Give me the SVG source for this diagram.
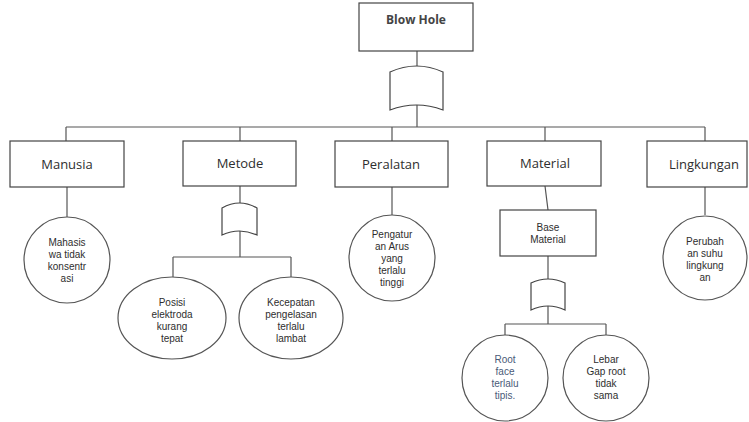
<svg xmlns="http://www.w3.org/2000/svg" width="749" height="422" viewBox="0 0 749 422">
<style>
.box{fill:#fff;stroke:#444;stroke-width:1.2}
.gate{fill:#fff;stroke:#444;stroke-width:1.2}
.ev{fill:#fff;stroke:#555;stroke-width:1.2}
.ln{stroke:#555;stroke-width:1.2;fill:none}
.t{font-family:"Open Sans","Liberation Sans",sans-serif;fill:#2e2e2e;text-anchor:middle}
.big{font-size:13px}
.sm{font-family:"Liberation Sans","Open Sans",sans-serif;font-size:10px}
</style>
<rect width="749" height="422" fill="#fff"/>
<g id="connectors">
<path class="ln" d="M417,51V66M417,105V127M66,127H705M66,127V141M240,127V141M392,127V141M545,127V141M705,127V141"/>
<path class="ln" d="M67,187V217"/>
<path class="ln" d="M240,186V203M240,231V257M173,257H291M173,257V277M291,257V277"/>
<path class="ln" d="M392,187V215"/>
<path class="ln" d="M545,186L548,210M548,256V279M548,306V324M505,324H606M505,324V335M606,324V335"/>
<path class="ln" d="M705,187V215"/>
</g>
<g id="blow-hole"><rect class="box" x="359" y="3" width="114" height="48"/><text class="t" x="416" y="24" style="font-size:12px;font-weight:bold;fill:#444">Blow Hole</text></g>
<g id="gate-main"><path class="gate" d="M390,72Q416.5,60 443,72L443,110Q416.5,100 390,110Z"/></g>
<g id="manusia"><rect class="box" x="10" y="141" width="114" height="46"/><text class="t big" x="67" y="169">Manusia</text></g>
<g id="metode"><rect class="box" x="183" y="141" width="113" height="45"/><text class="t big" x="240" y="168">Metode</text></g>
<g id="peralatan"><rect class="box" x="335" y="141" width="113" height="46"/><text class="t big" x="391" y="169">Peralatan</text></g>
<g id="material"><rect class="box" x="487" y="141" width="114" height="45"/><text class="t big" x="545" y="168">Material</text></g>
<g id="lingkungan"><rect class="box" x="647" y="141" width="100" height="46"/><text class="t big" x="704" y="169">Lingkungan</text></g>
<g id="mahasiswa"><circle class="ev" cx="67" cy="260" r="43"/><text class="t sm" x="67" y="246"><tspan x="67">Mahasis</tspan><tspan x="67" dy="12">wa tidak</tspan><tspan x="67" dy="12">konsentr</tspan><tspan x="67" dy="12">asi</tspan></text></g>
<g id="gate-metode"><path class="gate" d="M222,208Q239.5,198 257,208L257,235Q239.5,227 222,235Z"/></g>
<g id="posisi"><ellipse class="ev" cx="172" cy="318" rx="54" ry="41"/><text class="t sm" x="172" y="306"><tspan x="172">Posisi</tspan><tspan x="172" dy="12">elektroda</tspan><tspan x="172" dy="12">kurang</tspan><tspan x="172" dy="12">tepat</tspan></text></g>
<g id="kecepatan"><ellipse class="ev" cx="291" cy="318" rx="52" ry="41"/><text class="t sm" x="291" y="306"><tspan x="291">Kecepatan</tspan><tspan x="291" dy="12">pengelasan</tspan><tspan x="291" dy="12">terlalu</tspan><tspan x="291" dy="12">lambat</tspan></text></g>
<g id="pengaturan"><circle class="ev" cx="392" cy="258" r="43"/><text class="t sm" x="392" y="238"><tspan x="392">Pengatur</tspan><tspan x="392" dy="12">an Arus</tspan><tspan x="392" dy="12">yang</tspan><tspan x="392" dy="12">terlalu</tspan><tspan x="392" dy="12">tinggi</tspan></text></g>
<g id="base-material"><rect class="box" x="500" y="210" width="96" height="46"/><text class="t sm" x="548" y="231"><tspan x="548">Base</tspan><tspan x="548" dy="12">Material</tspan></text></g>
<g id="gate-material"><path class="gate" d="M531,283Q548,275 565,283L565,310Q548,302 531,310Z"/></g>
<g id="root-face"><circle class="ev" cx="505" cy="378" r="43"/><text class="t sm" x="505" y="363" style="fill:#4a5a78"><tspan x="505">Root</tspan><tspan x="505" dy="12">face</tspan><tspan x="505" dy="12">terlalu</tspan><tspan x="505" dy="12">tipis.</tspan></text></g>
<g id="lebar-gap"><circle class="ev" cx="606" cy="378" r="43"/><text class="t sm" x="606" y="363"><tspan x="606">Lebar</tspan><tspan x="606" dy="12">Gap root</tspan><tspan x="606" dy="12">tidak</tspan><tspan x="606" dy="12">sama</tspan></text></g>
<g id="perubahan"><circle class="ev" cx="705" cy="258" r="42"/><text class="t sm" x="705" y="245"><tspan x="705">Perubah</tspan><tspan x="705" dy="12">an suhu</tspan><tspan x="705" dy="12">lingkung</tspan><tspan x="705" dy="12">an</tspan></text></g>
</svg>
